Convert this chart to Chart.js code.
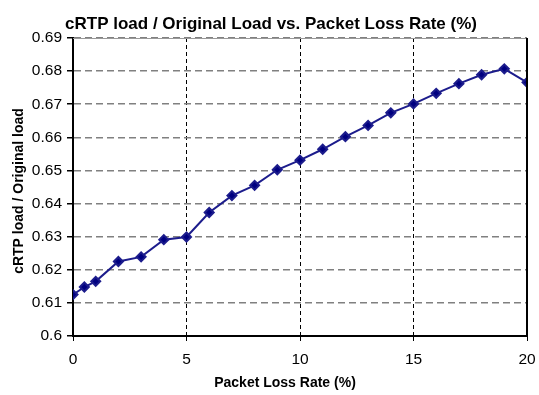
<!DOCTYPE html>
<html>
<head>
<meta charset="utf-8">
<script src="https://cdn.jsdelivr.net/npm/chart.js@4/dist/chart.umd.min.js"></script>
<style>
  html, body { margin: 0; padding: 0; background: #fff; }
  #wrap { width: 539px; height: 395px; }
</style>
</head>
<body>
<div id="wrap"><canvas id="chart"></canvas></div>
<script>
const chartTitle = 'cRTP load / Original Load vs. Packet Loss Rate (%)';
const xTitle = 'Packet Loss Rate (%)';
const yTitle = 'cRTP load / Original load';

const lossRate = [0, 0.5, 1, 2, 3, 4, 5, 6, 7, 8, 9, 10, 11, 12, 13, 14, 15, 16, 17, 18, 19, 20];
const loadRatio = [0.6125, 0.6148, 0.6165, 0.6225, 0.6239, 0.6291, 0.6299, 0.6373, 0.6424, 0.6455, 0.6502,
                   0.6531, 0.6564, 0.6602, 0.6636, 0.6674, 0.6701, 0.6733, 0.6762, 0.6789, 0.6807, 0.6766];

const FONT = '"Liberation Sans", Arial, sans-serif';

// Excel-style frame (grey top, black right) and the three titles,
// which sit slightly off the plot-area centre in the original.
const frameAndTitles = {
    id: 'frameAndTitles',
    afterDraw(chart) {
        const { ctx, chartArea: a } = chart;
        ctx.save();
        ctx.strokeStyle = '#999';
        ctx.lineWidth = 1;
        ctx.beginPath();
        ctx.moveTo(a.left, a.top + 0.5);
        ctx.lineTo(a.right, a.top + 0.5);
        ctx.stroke();
        ctx.strokeStyle = '#000';
        ctx.lineWidth = 2;
        ctx.beginPath();
        ctx.moveTo(a.right, a.top);
        ctx.lineTo(a.right, a.bottom + 1);
        ctx.stroke();

        ctx.fillStyle = '#000';
        ctx.textAlign = 'center';
        ctx.textBaseline = 'middle';
        ctx.font = 'bold 17px ' + FONT;
        ctx.fillText(chartTitle, 271, 24);
        ctx.font = 'bold 14px ' + FONT;
        ctx.fillText(xTitle, 285, 383);
        ctx.translate(19, 191);
        ctx.rotate(-Math.PI / 2);
        ctx.fillText(yTitle, 0, 0);
        ctx.restore();
    },
};

new Chart(document.getElementById('chart'), {
    type: 'line',
    data: {
        datasets: [{
            data: lossRate.map((x, i) => ({ x, y: loadRatio[i] })),
            borderColor: '#1c1c8c',
            backgroundColor: '#000080',
            borderWidth: 2,
            pointStyle: 'rectRot',
            pointRadius: 4.5,
            pointHoverRadius: 4.5,
            tension: 0,
            fill: false,
        }],
    },
    options: {
        responsive: true,
        maintainAspectRatio: false,
        animation: false,
        layout: { padding: { top: 38, right: 12, bottom: 0, left: 0 } },
        plugins: {
            legend: { display: false },
            tooltip: { enabled: false },
        },
        scales: {
            x: {
                type: 'linear',
                min: 0,
                max: 20,
                afterFit: s => { s.height = 59; s.paddingLeft = 0; s.paddingRight = 0; },
                ticks: { stepSize: 5, color: '#000', padding: 9, font: { family: FONT, size: 15.5 }, maxRotation: 0 },
                grid: { color: '#000', lineWidth: 1, tickLength: 5, tickColor: '#000' },
                border: { color: '#000', width: 2, dash: [4, 3] },
            },
            y: {
                min: 0.6,
                max: 0.69,
                afterFit: s => { s.width = 73; s.paddingTop = 0; s.paddingBottom = 0; },
                ticks: {
                    stepSize: 0.01,
                    color: '#000',
                    padding: 5,
                    font: { family: FONT, size: 15.5 },
                    callback: v => String(+v.toFixed(2)),
                },
                grid: { color: '#808080', lineWidth: 1.5, tickLength: 6, tickColor: '#000' },
                border: { color: '#000', width: 2, dash: [7, 4] },
            },
        },
    },
    plugins: [frameAndTitles],
});
</script>
</body>
</html>
